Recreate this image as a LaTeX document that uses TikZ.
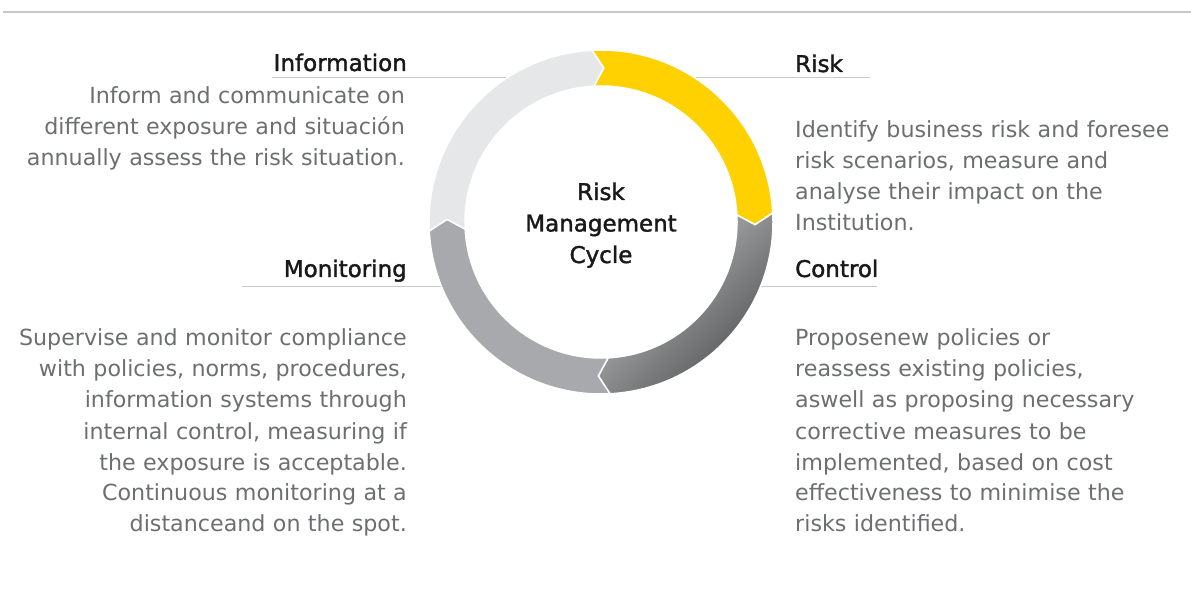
\documentclass[tikz,border=0pt]{standalone}
\usepackage{fontspec}
\setmainfont{DejaVu Sans}
\newfontfamily\headfont[FakeBold=1.6]{DejaVu Sans}
\usetikzlibrary{calc}
\definecolor{ringyellow}{HTML}{FFD100}
\definecolor{ringlight}{HTML}{E6E7E8}
\definecolor{ringmid}{HTML}{A7A9AC}
\definecolor{ringdark}{HTML}{505153}
\definecolor{bodygray}{HTML}{6D6E71}
\definecolor{rulegray}{HTML}{C7C8CA}
\def\ringpart[#1](#2){\path[#1] (#2:172) arc[start angle=#2, end angle=#2-90, radius=172] -- (#2-94:154) -- (#2-90:136) arc[start angle=#2-90, end angle=#2, radius=136] -- (#2-4:154) -- cycle;}

\begin{document}
\begin{tikzpicture}[x=1pt, y=1pt,
    head/.style={inner sep=0, text=black!90, font=\headfont\fontsize{23}{31.5}\selectfont},
    body/.style={inner sep=0, text=bodygray, font=\fontsize{22.2}{31}\selectfont},
    rule/.style={draw=rulegray, line width=1}]
		%%%%% START %%%%%
		\useasboundingbox (0,0) rectangle (1191,-601);
		\draw[rulegray, line width=2] (3,-12) -- (1191,-12);
		
		\coordinate (c) at (601,-222);
		\coordinate (infoL) at (272,-78);
		\coordinate (riskR) at (870,-78);
		\coordinate (monitL) at (242,-287);
		\coordinate (ctrlR) at (877,-287);
		
		\draw[rule] (infoL) -- (c |- infoL);
		\draw[rule] (c |- riskR) -- (riskR);
		\draw[rule] (monitL) -- (c |- monitL);
		\draw[rule] (c |- ctrlR) -- (ctrlR);
		
		\fill[white] (c) circle (137);
		\begin{scope}[shift={(c)}]
			\ringpart[fill=ringyellow, draw=white, line width=1.5](93)
			\ringpart[top color=ringmid!70!white, bottom color=ringdark, shading angle=45, draw=white, line width=1.5](3)
			\ringpart[fill=ringmid, draw=white, line width=1.5](-87)
			\ringpart[fill=ringlight, draw=white, line width=1.5](-177)
		\end{scope}
		
		\node[head, anchor=base, align=center, text width=200pt] (cycle) at (601,-200) {Risk\\ Management\\ Cycle};
		
		\node[head, anchor=base east] (info) at (407,-71) {Information};
		\node[body, anchor=base east, align=right, text width=400pt] (infotext) at (405,-104) {Inform and communicate on\\ different exposure and situación\\ annually assess the risk situation.};
		
		\node[head, anchor=base west] (risk) at (795,-72) {Risk};
		\node[body, anchor=base west, align=left, text width=380pt] (risktext) at (795,-138) {Identify business risk and foresee\\ risk scenarios, measure and\\ analyse their impact on the\\ Institution.};
		
		\node[head, anchor=base east] (monit) at (407,-277) {Monitoring};
		\node[body, anchor=base east, align=right, text width=400pt] (monittext) at (407,-346) {Supervise and monitor compliance\\ with policies, norms, procedures,\\ information systems through\\ internal control, measuring if\\ the exposure is acceptable.\\ Continuous monitoring at a\\ distanceand on the spot.};
		
		\node[head, anchor=base west] (ctrl) at (795,-277) {Control};
		\node[body, anchor=base west, align=left, text width=380pt] (ctrltext) at (795,-346) {Proposenew policies or\\ reassess existing policies,\\ aswell as proposing necessary\\ corrective measures to be\\ implemented, based on cost\\ effectiveness to minimise the\\ risks identified.};
		%%%%% END %%%%%
\end{tikzpicture}
\end{document}
